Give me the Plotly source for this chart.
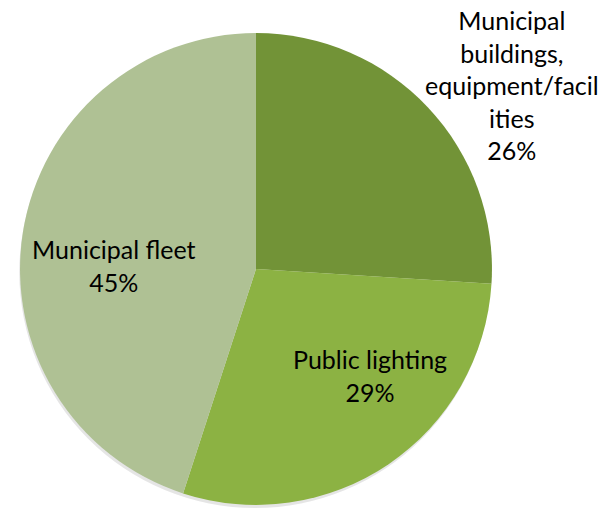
import plotly.graph_objects as go

# Energy use by sector (share of total)
categories = ["Municipal buildings, equipment/facilities", "Public lighting", "Municipal fleet"]
label_lines = [["Municipal", "buildings,", "equipment/facil", "ities"],
               ["Public lighting"],
               ["Municipal fleet"]]
shares = [26, 29, 45]
colors = ["#729337", "#8cb243", "#afc194"]

# label anchor positions (paper coords) and vertical anchors
label_pos = [(0.853, 0.995, "top"), (0.617, 0.26, "middle"), (0.19, 0.478, "middle")]

fig = go.Figure()

# soft drop shadow behind the pie
fig.add_trace(go.Pie(
    values=[1], marker=dict(colors=["rgba(0,0,0,0.10)"], line=dict(width=0)),
    domain=dict(x=[0.028, 0.822], y=[0.0, 0.928]),
    textinfo="none", hoverinfo="skip", showlegend=False, sort=False,
))

fig.add_trace(go.Pie(
    labels=categories, values=shares, sort=False, direction="clockwise", rotation=0,
    marker=dict(colors=colors, line=dict(width=0)),
    textinfo="none", showlegend=False,
    domain=dict(x=[0.0333, 0.82], y=[0.006, 0.935]),
))

for lines, val, (x, y, ya) in zip(label_lines, shares, label_pos):
    fig.add_annotation(
        x=x, y=y, xref="paper", yref="paper", xanchor="center", yanchor=ya,
        text="<br>".join(lines + [f"{val}%"]), showarrow=False, align="center",
        font=dict(family="Lato", size=25, color="#000000"),
    )

fig.update_layout(
    width=600, height=508, margin=dict(l=0, r=0, t=0, b=0),
    paper_bgcolor="white", plot_bgcolor="white",
)

fig.write_html("out.html")
